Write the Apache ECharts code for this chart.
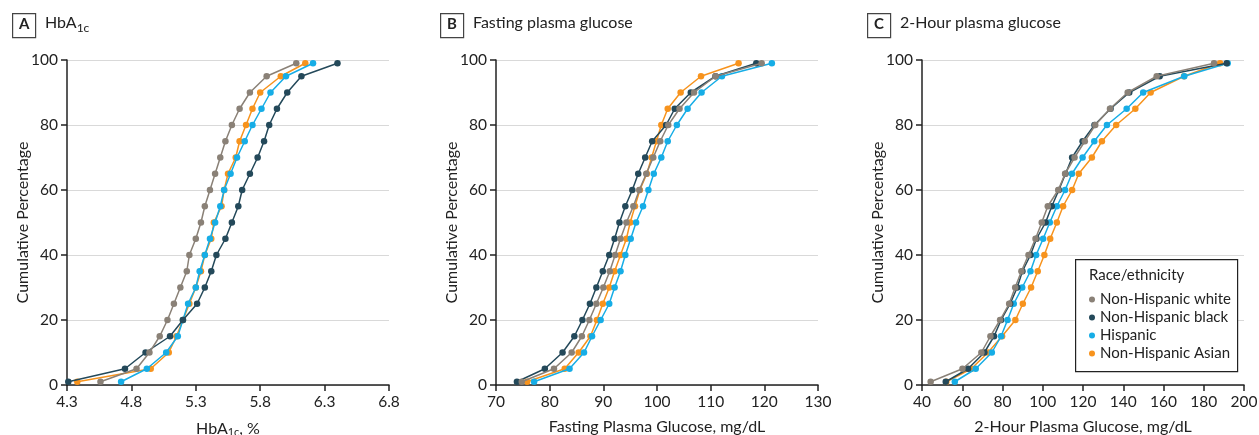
<!DOCTYPE html>
<html><head><meta charset="utf-8">
<script src="https://cdn.jsdelivr.net/npm/echarts@6/dist/echarts.min.js"></script>
<style>html,body{margin:0;padding:0;background:#fff}#c{width:1259px;height:435px}</style>
</head><body><div id="c"></div>
<script>
const percentiles = [1,5,10,15,20,25,30,35,40,45,50,55,60,65,70,75,80,85,90,95,99];
const seriesNames = ['Non-Hispanic white','Non-Hispanic black','Hispanic','Non-Hispanic Asian'];
const colors = ['#8a8177','#24495a','#16ade6','#f7931d'];

// Panel A: HbA1c, %
const hbaWhite = [4.56,4.84,4.94,5.02,5.08,5.13,5.18,5.23,5.25,5.30,5.34,5.37,5.41,5.45,5.49,5.53,5.58,5.64,5.72,5.85,6.08];
const hbaBlack = [4.31,4.75,4.91,5.10,5.20,5.31,5.37,5.42,5.46,5.53,5.58,5.63,5.66,5.72,5.78,5.83,5.87,5.93,6.01,6.12,6.40];
const hbaHispanic = [4.72,4.92,5.07,5.16,5.20,5.24,5.30,5.33,5.37,5.41,5.45,5.49,5.52,5.57,5.62,5.68,5.74,5.81,5.88,6.00,6.21];
const hbaAsian = [4.38,4.95,5.09,5.15,5.20,5.25,5.30,5.34,5.37,5.42,5.44,5.50,5.52,5.55,5.61,5.64,5.69,5.74,5.80,5.96,6.15];

// Panel B: Fasting plasma glucose, mg/dL
const fpgWhite = [74.8,80.8,84.1,86.0,87.4,88.7,90.0,91.2,92.2,93.2,94.3,95.6,96.7,98.0,99.3,100.6,102.1,104.2,106.9,110.9,119.5];
const fpgBlack = [73.9,79.1,82.4,84.6,86.1,87.5,88.7,89.9,91.1,92.1,93.0,94.1,95.4,96.5,97.8,99.1,101.7,103.3,106.3,110.9,118.5];
const fpgHispanic = [77.1,83.7,86.4,87.9,89.5,91.1,92.1,93.2,94.1,95.1,96.1,97.4,98.4,99.4,100.8,102.0,103.7,105.7,108.3,112.1,121.4];
const fpgAsian = [75.8,82.8,85.4,87.6,88.8,89.9,91.1,92.1,93.2,94.3,95.0,95.9,96.8,98.1,99.0,99.9,100.8,102.0,104.4,108.2,115.2];

// Panel C: 2-hour plasma glucose, mg/dL
const ogttWhite = [44.3,60.1,69.5,74.0,78.8,83.3,86.3,89.4,92.9,96.4,99.5,102.5,107.7,111.1,115.8,120.9,126.1,133.4,142.2,156.6,185.1];
const ogttBlack = [51.8,62.9,71.0,75.8,79.3,83.8,87.3,89.9,93.9,96.9,101.4,104.5,108.0,111.3,114.6,119.8,125.7,133.7,143.0,158.1,191.4];
const ogttHispanic = [56.3,66.7,74.7,79.3,82.5,85.6,89.8,93.9,96.7,100.2,103.5,107.0,111.1,114.5,119.8,125.6,131.9,141.7,149.9,170.3,191.9];
const ogttAsian = [52.1,64.5,72.8,79.8,86.4,90.1,94.2,97.5,100.8,103.7,107.0,110.1,114.6,117.9,124.4,129.4,136.5,146.0,153.6,170.2,188.1];

const panelTitles = ['HbA{sub|1c}','Fasting plasma glucose','2-Hour plasma glucose'];
const panelLetters = ['A','B','C'];
const xTitles = ['HbA{sub|1c}, %','Fasting Plasma Glucose, mg/dL','2-Hour Plasma Glucose, mg/dL'];
const yTitle = 'Cumulative Percentage';
const xMins = [4.3,70,40], xMaxs = [6.8,130,200], xSteps = [0.5,10,20];

const panels = [
  [hbaWhite,hbaBlack,hbaHispanic,hbaAsian],
  [fpgWhite,fpgBlack,fpgHispanic,fpgAsian],
  [ogttWhite,ogttBlack,ogttHispanic,ogttAsian]
];

const FONT = 'Lato, "Open Sans", sans-serif';
const gridLefts = [67,496,922], gridWidth = 322;
const chart = echarts.init(document.getElementById('c'));

const grids=[], xAxes=[], yAxes=[], series=[], graphics=[];
panels.forEach((pd,i)=>{
  grids.push({left:gridLefts[i], top:60, width:gridWidth, height:325,
    containLabel:false, outerBoundsMode:'none'});
  xAxes.push({
    gridIndex:i, type:'value', min:xMins[i], max:xMaxs[i], interval:xSteps[i],
    axisLine:{lineStyle:{color:'#222',width:1.5}},
    axisTick:{show:true,length:6,lineStyle:{color:'#222',width:1.5}},
    splitLine:{show:false},
    axisLabel:{color:'#222',fontSize:15.5,fontFamily:FONT,margin:9,
      formatter:v=> i===0 ? v.toFixed(1) : String(Math.round(v))},
    name:xTitles[i], nameLocation:'middle', nameGap:34, nameMoveOverlap:false,
    nameTextStyle:{color:'#222',fontSize:16,fontFamily:FONT,
      rich:{sub:{fontSize:11,verticalAlign:'bottom',padding:[8,0,0,0],fontFamily:FONT,color:'#222'}}}
  });
  yAxes.push({
    gridIndex:i, type:'value', min:0, max:100, interval:20,
    axisLine:{show:true,lineStyle:{color:'#222',width:1.5}},
    axisTick:{show:true,length:6,lineStyle:{color:'#222',width:1.5}},
    splitLine:{show:true,lineStyle:{color:'#d9d9d9',width:1.2}},
    axisLabel:{color:'#222',fontSize:15.5,fontFamily:FONT,margin:9},
    name:yTitle, nameLocation:'middle', nameGap:36, nameRotate:90, nameMoveOverlap:false,
    nameTextStyle:{color:'#222',fontSize:16,fontFamily:FONT}
  });
  pd.forEach((vals,k)=>{
    series.push({
      type:'line', name:seriesNames[k], xAxisIndex:i, yAxisIndex:i,
      data: vals.map((v,j)=>[v,percentiles[j]]),
      symbol:'circle', symbolSize:6.5,
      lineStyle:{color:colors[k],width:1.5},
      itemStyle:{color:colors[k]},
      z: 10-k, animation:false
    });
  });
  // panel label box and title
  const bx = [12,440,867][i];
  graphics.push({type:'rect', left:bx, top:13, shape:{width:23,height:24},
    style:{fill:'#fff',stroke:'#444',lineWidth:1.2}});
  graphics.push({type:'text', left:bx+7, top:17, style:{text:panelLetters[i],
    font:'bold 15px '+FONT, fill:'#222'}});
  graphics.push({type:'text', left:bx+33, top:15, style:{text:panelTitles[i],
    font:'16px '+FONT, fill:'#222',
    rich:{sub:{fontSize:12,padding:[10,0,0,0],fontFamily:FONT,fill:'#222'}}}});
});

// legend box
graphics.push({type:'rect', left:1075, top:259, shape:{width:162,height:112},
  style:{fill:'#fff',stroke:'#222',lineWidth:1.2}, z:50});
graphics.push({type:'text', left:1089, top:268, style:{text:'Race/ethnicity',
  font:'15px '+FONT, fill:'#222'}, z:51});

chart.setOption({
  animation:false,
  grid:grids, xAxis:xAxes, yAxis:yAxes, series:series,
  graphic:graphics,
  legend:{
    show:true, orient:'vertical', left:1084, top:287, itemGap:3,
    itemWidth:6, itemHeight:6, itemTextGap:3, icon:'circle', z:60,
    data:seriesNames.map((n,k)=>({name:n,itemStyle:{color:colors[k]}})),
    textStyle:{color:'#222',fontSize:15,fontFamily:FONT},
    selectedMode:false
  }
});
</script></body></html>
